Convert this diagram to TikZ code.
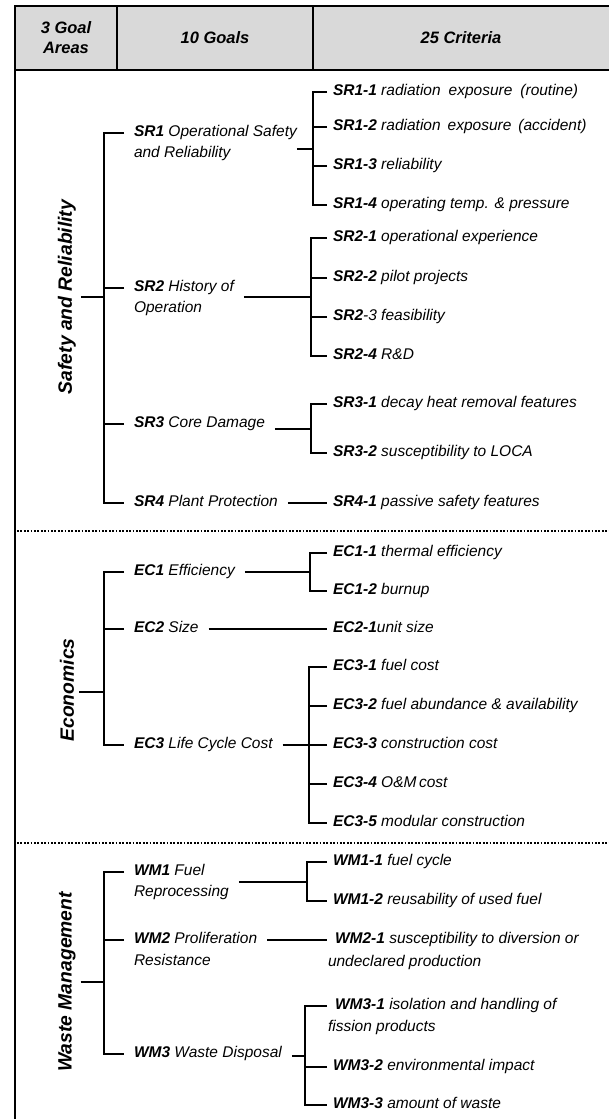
\documentclass[tikz,border=0pt]{standalone}
\usepackage{fontspec}
\setmainfont{Liberation Sans}
\usepackage{tikz}
\definecolor{headgray}{RGB}{217, 217, 217}

\begin{document}
\begin{tikzpicture}[x=1pt, y=-1pt,
    br/.style={line width=2pt},
    sepline/.style={line width=1.8pt, dash pattern=on 1.8pt off 1.6pt},
    head/.style={font=\fontsize{16.5}{20}\selectfont\bfseries\itshape, align=center},
    area/.style={font=\fontsize{19.3}{22}\selectfont\bfseries\itshape, rotate=90, inner sep=1pt, outer sep=4pt},
    goal/.style={font=\fontsize{15.5}{18}\selectfont\itshape, anchor=west, inner sep=1pt, outer sep=9pt,
                 text height=11pt, text depth=3.5pt},
    crit/.style={font=\fontsize{15.5}{18}\selectfont\itshape, anchor=west, inner sep=1pt, outer sep=5pt,
                 text height=11pt, text depth=3.5pt}]
    \useasboundingbox (0,0) rectangle (609,1119);

    % header row
    \filldraw[fill=headgray, br]  ( 15,  6) rectangle (615, 70);
    \draw[br]                     (117,  6) -- (117, 70);
    \draw[br]                     (313,  6) -- (313, 70);
    \draw[br]                     ( 15, 70) -- ( 15,1125);
    \node[head] (hareas) at ( 66, 38) {3 Goal\\Areas};
    \node[head] (hgoals) at (215, 38) {10 Goals};
    \node[head] (hcrits) at (461, 38) {25 Criteria};

    % section separators
    \draw[sepline] ( 17, 531) -- (612, 531);
    \draw[sepline] ( 17, 843) -- (612, 843);

    % goal areas
    \node[area] (safety) at ( 67, 297) {Safety and Reliability};
    \node[area] (econ)   at ( 67, 690) {Economics};
    \node[area] (waste)  at ( 67, 982) {Waste Management};
    \coordinate (srj) at (104, 297);
    \coordinate (ecj) at (104, 692);
    \coordinate (wmj) at (104, 982);

    % goals
    \node[goal] (sr1)  at (124, 133) {\textbf{SR1} Operational Safety};
    \node[goal] (sr1b) at (124, 154) {and Reliability};
    \node[goal] (sr2)  at (124, 288) {\textbf{SR2} History of};
    \node[goal] (sr2b) at (124, 309) {Operation};
    \node[goal] (sr3)  at (124, 424) {\textbf{SR3} Core Damage};
    \node[goal] (sr4)  at (124, 503) {\textbf{SR4} Plant Protection};
    \node[goal] (ec1)  at (124, 572) {\textbf{EC1} Efficiency};
    \node[goal] (ec2)  at (124, 629) {\textbf{EC2} Size};
    \node[goal] (ec3)  at (124, 745) {\textbf{EC3} Life Cycle Cost};
    \node[goal] (wm1)  at (124, 872) {\textbf{WM1} Fuel};
    \node[goal] (wm1b) at (124, 893) {Reprocessing};
    \node[goal] (wm2)  at (124, 940) {\textbf{WM2} Proliferation};
    \node[goal] (wm2b) at (124, 962) {Resistance};
    \node[goal] (wm3)  at (124,1054) {\textbf{WM3} Waste Disposal};

    % criteria
    \node[crit] (sr11) at (327,  92) {\textbf{SR1-1} radiation\hspace{8pt}exposure\hspace{8pt}(routine)};
    \node[crit] (sr12) at (327, 127) {\textbf{SR1-2} radiation\hspace{7pt}exposure\hspace{7pt}(accident)};
    \node[crit] (sr13) at (327, 166) {\textbf{SR1-3} reliability};
    \node[crit] (sr14) at (327, 205) {\textbf{SR1-4} operating temp. \& pressure};
    \node[crit] (sr21) at (327, 238) {\textbf{SR2-1} operational experience};
    \node[crit] (sr22) at (327, 278) {\textbf{SR2-2} pilot projects};
    \node[crit] (sr23) at (327, 317) {\textbf{SR2}-3 feasibility};
    \node[crit] (sr24) at (327, 356) {\textbf{SR2-4} R\&D};
    \node[crit] (sr31) at (327, 404) {\textbf{SR3-1} decay heat removal features};
    \node[crit] (sr32) at (327, 453) {\textbf{SR3-2} susceptibility to LOCA};
    \node[crit] (sr41) at (327, 503) {\textbf{SR4-1} passive safety features};
    \node[crit] (ec11) at (327, 553) {\textbf{EC1-1} thermal efficiency};
    \node[crit] (ec12) at (327, 591) {\textbf{EC1-2} burnup};
    \node[crit] (ec21) at (327, 629) {\textbf{EC2-1}unit size};
    \node[crit] (ec31) at (327, 667) {\textbf{EC3-1} fuel cost};
    \node[crit] (ec32) at (327, 706) {\textbf{EC3-2} fuel abundance \& availability};
    \node[crit] (ec33) at (327, 745) {\textbf{EC3-3} construction cost};
    \node[crit] (ec34) at (327, 784) {\textbf{EC3-4} O\&M\,cost};
    \node[crit] (ec35) at (327, 823) {\textbf{EC3-5} modular construction};
    \node[crit] (wm11) at (327, 862) {\textbf{WM1-1} fuel cycle};
    \node[crit] (wm12) at (327, 901) {\textbf{WM1-2} reusability of used fuel};
    \node[crit] (wm21) at (327, 940) {\hspace*{2pt}\textbf{WM2-1} susceptibility to diversion or};
    \node[crit] (wm21b) at (322, 963) {undeclared production};
    \node[crit] (wm31) at (327,1006) {\hspace*{2pt}\textbf{WM3-1} isolation and handling of};
    \node[crit] (wm31b) at (322,1028) {fission products};
    \node[crit] (wm32) at (327,1067) {\textbf{WM3-2} environmental impact};
    \node[crit] (wm33) at (327,1105) {\textbf{WM3-3} amount of waste};

    % goal area brackets
    \draw[br] (safety.south) -- (srj);
    \draw[br] (sr1.west) -| (srj) |- (sr4.west);
    \draw[br] (sr2.west) -- (sr2.west -| srj);
    \draw[br] (sr3.west) -- (sr3.west -| srj);
    \draw[br] (econ.south |- ecj) -- (ecj);
    \draw[br] (ec1.west) -| (ecj) |- (ec3.west);
    \draw[br] (ec2.west) -- (ec2.west -| ecj);
    \draw[br] (waste.south) -- (wmj);
    \draw[br] (wm1.west) -| (wmj) |- (wm3.west);
    \draw[br] (wm2.west) -- (wm2.west -| wmj);

    % criteria brackets
    \coordinate (sr1s) at (313, 148.5);
    \draw[br] (sr11.west) -| (sr1s) |- (sr14.west);
    \draw[br] (sr12.west) -- (sr12.west -| sr1s);
    \draw[br] (sr13.west) -- (sr13.west -| sr1s);
    \draw[br] ([xshift=-10pt]sr1.east |- sr1s) -- (sr1s);

    \coordinate (sr2s) at (311, 297);
    \draw[br] (sr21.west) -| (sr2s) |- (sr24.west);
    \draw[br] (sr22.west) -- (sr22.west -| sr2s);
    \draw[br] (sr23.west) -- (sr23.west -| sr2s);
    \draw[br] (sr2.east |- sr2s) -- (sr2s);

    \coordinate (sr3s) at (311, 428.5);
    \draw[br] (sr31.west) -| (sr3s) |- (sr32.west);
    \draw[br] (sr3.east |- sr3s) -- (sr3s);

    \draw[br] (sr4.east) -- (sr41.west);

    \coordinate (ec1s) at (310, 572);
    \draw[br] (ec11.west) -| (ec1s) |- (ec12.west);
    \draw[br] (ec1.east |- ec1s) -- (ec1s);

    \draw[br] (ec2.east) -- (ec21.west);

    \coordinate (ec3s) at (309, 745);
    \draw[br] (ec31.west) -| (ec3s) |- (ec35.west);
    \draw[br] (ec32.west) -- (ec32.west -| ec3s);
    \draw[br] (ec33.west) -- (ec33.west -| ec3s);
    \draw[br] (ec34.west) -- (ec34.west -| ec3s);
    \draw[br] (ec3.east |- ec3s) -- (ec3s);

    \coordinate (wm1s) at (307, 881.5);
    \draw[br] (wm11.west) -| (wm1s) |- (wm12.west);
    \draw[br] (wm1b.east |- wm1s) -- (wm1s);

    \draw[br] (wm2.east) -- (wm21.west);

    \coordinate (wm3s) at (305,1055.5);
    \draw[br] (wm31.west) -| (wm3s) |- (wm33.west);
    \draw[br] (wm32.west) -- (wm32.west -| wm3s);
    \draw[br] (wm3.east |- wm3s) -- (wm3s);
\end{tikzpicture}
\end{document}
